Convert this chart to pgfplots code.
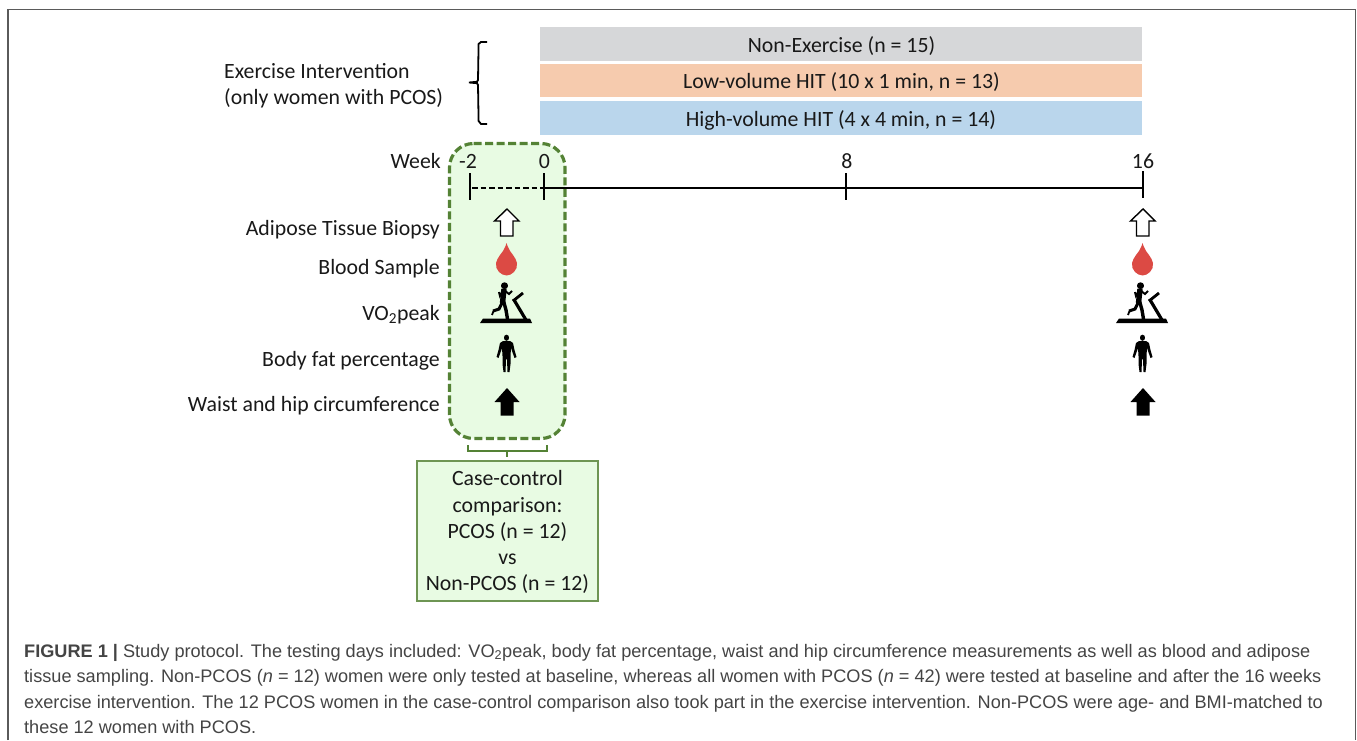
\documentclass[border=0pt]{standalone}
\usepackage{pgfplots}
\pgfplotsset{compat=1.18}
\usepackage{fontspec}
\setmainfont{Liberation Sans}
\newfontfamily\calibri{Carlito}

\definecolor{framegray}{HTML}{5A5A5A}
\definecolor{bargray}{HTML}{D6D7D9}
\definecolor{barorange}{HTML}{F6CBAE}
\definecolor{barblue}{HTML}{BAD6EC}
\definecolor{boxfill}{HTML}{E8FBE3}
\definecolor{boxgreen}{HTML}{548235}
\definecolor{drop}{HTML}{DC4A44}
\definecolor{captext}{HTML}{444444}

% label in the diagram font, args: anchor, x, baseline y, text
\newcommand\lab[4]{\node[anchor=#1,inner sep=0pt,text=black!90] at (axis cs:#2,#3) {\calibri\fontsize{21.8}{24}\selectfont #4};}
\newcommand\capline[2]{\node[anchor=base west,inner sep=0pt,text=captext] at (axis cs:24,#1) {\fontsize{18.15}{20}\selectfont #2};}

% the five measurement icons, arg: shift to the right
\newcommand\icons[1]{
    % white arrow
    \addplot[draw=black,line width=1.4pt,fill=white,xshift=#1pt,line join=miter]
        coordinates {(507,209) (519,221) (513,221) (513,236) (500.5,236) (500.5,221) (494.5,221)} --cycle;
    % blood drop
    \addplot[draw=none,fill=drop,xshift=#1pt]
        coordinates {(506.5,243) (507.5,246) (510,251) (513,255) (515.5,259) (517,263) (516.5,268) (514,272) (510.5,274.5) (506.5,275.5)
            (502.5,274.5) (499,272) (496.5,268) (496,263) (497.5,259) (500,255) (503,251) (505.5,246)} --cycle;
    % treadmill
    \addplot[draw=none,fill=black,xshift=#1pt]
        coordinates {(480,323) (532,323) (530,318.5) (483,318.5)} --cycle;
    \addplot[black,line width=3.2pt,xshift=#1pt] coordinates {(526,320) (513.5,299)};
    \addplot[black,line width=2.8pt,xshift=#1pt] coordinates {(513,301) (518,297) (523,293)};
    % runner
    \addplot[black,line width=6.4pt,line cap=round,xshift=#1pt] coordinates {(504.5,285.5) (504.5,286)};
    \addplot[black,line width=5.4pt,xshift=#1pt] coordinates {(504,289) (502.5,303)};
    \addplot[black,line width=3.4pt,xshift=#1pt] coordinates {(503.5,301) (506,310) (507.5,319)};
    \addplot[black,line width=3pt,xshift=#1pt] coordinates {(503,301) (499,309) (493,311)};
    \addplot[black,line width=1.8pt,xshift=#1pt] coordinates {(493.5,311) (492,315)};
    \addplot[black,line width=2pt,xshift=#1pt] coordinates {(505,291) (509,294) (512,291)};
    \addplot[black,line width=2pt,xshift=#1pt] coordinates {(503,291) (500,296) (499,292)};
    % person
    \addplot[black,line width=5.6pt,line cap=round,xshift=#1pt] coordinates {(506.5,337.5) (506.5,338)};
    \addplot[draw=none,fill=black,xshift=#1pt]
        coordinates {(503,341) (510,341) (513,343) (514.5,350) (516.5,357) (514.5,358) (512,351) (511,348) (510.5,356) (510.5,364)
            (509.5,372) (507.5,372) (507,360) (506.5,358) (506,360) (505.5,372) (503.5,372) (502.5,364) (502.5,356) (502,348)
            (501,351) (498.5,358) (496.5,357) (498.5,350) (500,343)} --cycle;
    % black arrow
    \addplot[draw=none,fill=black,xshift=#1pt]
        coordinates {(507,388) (519.5,402) (513.5,402) (513.5,415.5) (500.5,415.5) (500.5,402) (494.5,402)} --cycle;
}

\begin{document}
\begin{tikzpicture}
    \begin{axis}[
        scale only axis,
        width=1357pt,
        height=740pt,
        xmin=0, xmax=1357,
        ymin=0, ymax=740,
        y dir=reverse,
        hide axis,
        clip=false,
    ]
        % keeps the page the size of the whole axis
        \path (axis cs:0,0) rectangle (axis cs:1357,740);

        % frame, open at the bottom
        \addplot[framegray,line width=1.6pt] coordinates {(8,740) (8,9.5) (1355.5,9.5) (1355.5,740)};

        % intervention bars
        \addplot[draw=none,fill=bargray] coordinates {(540,27) (1142,27) (1142,61) (540,61)} --cycle;
        \addplot[draw=none,fill=barorange] coordinates {(540,64.5) (1142,64.5) (1142,97) (540,97)} --cycle;
        \addplot[draw=none,fill=barblue] coordinates {(540,101) (1142,101) (1142,135) (540,135)} --cycle;
        \lab{base}{841.5}{53}{Non-Exercise (n = 15)}
        \lab{base}{841.5}{89}{Low-volume HIT (10 x 1 min, n = 13)}
        \lab{base}{841}{127}{High-volume HIT (4 x 4 min, n = 14)}

        % brace
        \addplot[black,line width=1.8pt] coordinates {(487,42) (481,42) (478.6,44) (478,80) (477,81.8) (469,82.5)
            (477,83.2) (478,85) (478.6,121) (481,124) (487,124)};
        \lab{base west}{224}{79}{Exercise Intervention}
        \lab{base west}{224}{105}{(only women with PCOS)}

        % baseline window
        \addplot[draw=boxgreen,fill=boxfill,line width=3.2pt,rounded corners=24pt,dash pattern=on 8pt off 3.5pt]
            coordinates {(449.5,143.5) (565,143.5) (565,438.5) (449.5,438.5)} --cycle;

        % timeline
        \addplot[black,line width=2.2pt] coordinates {(544,188) (1143,188)};
        \addplot[black,line width=2.2pt,dash pattern=on 5.5pt off 3pt] coordinates {(472,188) (544,188)};
        \addplot[black,line width=2.2pt] coordinates {(470,173) (470,200)};
        \addplot[black,line width=2.2pt] coordinates {(544,173) (544,200)};
        \addplot[black,line width=2.2pt] coordinates {(846,173) (846,200)};
        \addplot[black,line width=2.2pt] coordinates {(1143,171) (1143,198)};
        \lab{base east}{441}{168.5}{Week}
        \lab{base}{468}{168.5}{-2}
        \lab{base}{544.5}{168.5}{0}
        \lab{base}{847}{168.5}{8}
        \lab{base}{1143}{168.5}{16}

        % measurement rows
        \lab{base east}{440}{235}{Adipose Tissue Biopsy}
        \lab{base east}{440}{274}{Blood Sample}
        \lab{base east}{440}{320}{VO\textsubscript{2}peak}
        \lab{base east}{440}{366.5}{Body fat percentage}
        \lab{base east}{440}{411}{Waist and hip circumference}
        \icons{0}
        \icons{636}

        % case-control box
        \addplot[boxgreen,line width=2pt] coordinates {(468,445) (468,450.5) (547,450.5) (547,445)};
        \addplot[boxgreen,line width=2pt] coordinates {(507,450.5) (507,457)};
        \addplot[draw=boxgreen!85!white,fill=boxfill,line width=2pt]
            coordinates {(417,460.5) (598,460.5) (598,600.5) (417,600.5)} --cycle;
        \lab{base}{507.5}{485.5}{Case-control}
        \lab{base}{507.5}{512}{comparison:}
        \lab{base}{507.5}{538}{PCOS (n = 12)}
        \lab{base}{507.5}{564}{vs}
        \lab{base}{507.5}{590}{Non-PCOS (n = 12)}

        % caption
        \capline{657}{\textbf{FIGURE 1 |} Study protocol. The testing days included: VO\textsubscript{2}peak, body fat percentage, waist and hip circumference measurements as well as blood and adipose}
        \capline{682}{tissue sampling. Non-PCOS (\textit{n} = 12) women were only tested at baseline, whereas all women with PCOS (\textit{n} = 42) were tested at baseline and after the 16 weeks}
        \capline{708}{exercise intervention. The 12 PCOS women in the case-control comparison also took part in the exercise intervention. Non-PCOS were age- and BMI-matched to}
        \capline{733}{these 12 women with PCOS.}
    \end{axis}
\end{tikzpicture}
\end{document}
